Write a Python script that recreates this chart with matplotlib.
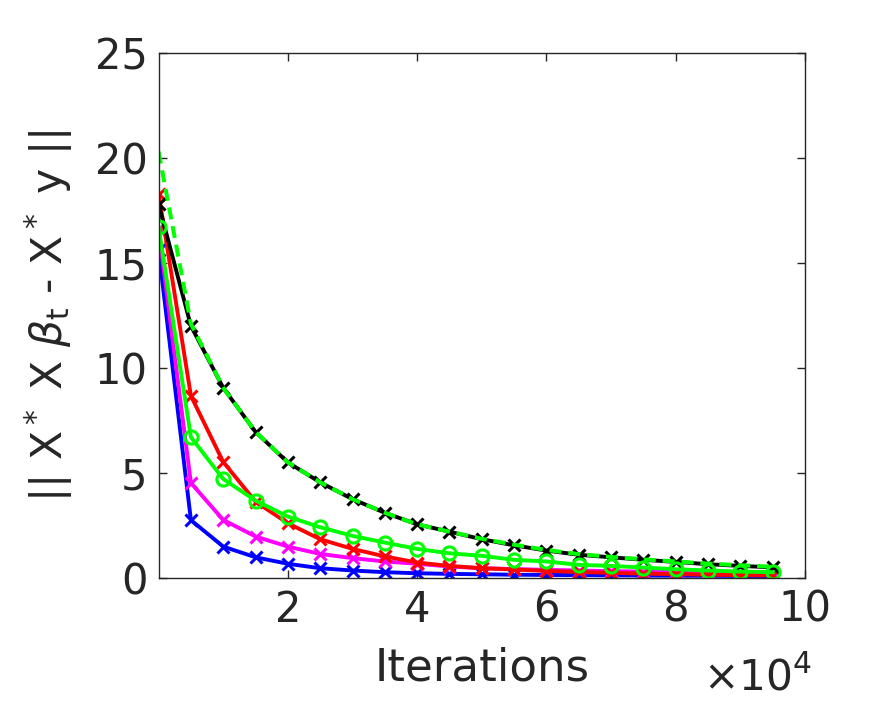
import matplotlib
matplotlib.use("Agg")
import matplotlib.pyplot as plt

iters = [1, 5000, 10000, 15000, 20000, 25000, 30000, 35000, 40000, 45000,
         50000, 55000, 60000, 65000, 70000, 75000, 80000, 85000, 90000, 95000]

blue = [15.6, 2.75, 1.49, 0.98, 0.67, 0.46, 0.35, 0.27, 0.22, 0.19,
        0.17, 0.15, 0.14, 0.13, 0.12, 0.11, 0.10, 0.10, 0.09, 0.09]
magenta = [16.6, 4.52, 2.76, 1.97, 1.49, 1.14, 0.94, 0.78, 0.67, 0.54,
           0.46, 0.42, 0.38, 0.35, 0.32, 0.30, 0.28, 0.26, 0.25, 0.24]
red = [18.3, 8.67, 5.52, 3.63, 2.60, 1.84, 1.38, 1.02, 0.73, 0.57,
       0.46, 0.40, 0.33, 0.28, 0.24, 0.20, 0.18, 0.15, 0.13, 0.12]
black = [17.8, 12.0, 9.05, 6.95, 5.50, 4.55, 3.75, 3.10, 2.55, 2.20,
         1.84, 1.55, 1.30, 1.10, 0.98, 0.86, 0.76, 0.65, 0.57, 0.50]
green_circ = [16.7, 6.70, 4.71, 3.68, 2.92, 2.41, 2.00, 1.68, 1.38, 1.17,
              1.05, 0.86, 0.78, 0.62, 0.57, 0.49, 0.41, 0.35, 0.30, 0.27]
green_dash = [20.3, 12.1, 9.05, 6.95, 5.50, 4.55, 3.75, 3.10, 2.55, 2.20,
              1.86, 1.58, 1.33, 1.13, 1.00, 0.88, 0.78, 0.68, 0.60, 0.53]

xticks = [20000, 40000, 60000, 80000, 100000]
xticklabels = ["2", "4", "6", "8", "10"]
yticks = [0, 5, 10, 15, 20, 25]

txt = "#262626"
fig = plt.figure(figsize=(8.91, 7.03), dpi=100)
ax = fig.add_axes([0.178, 0.178, 0.7255, 0.7466])

lw = 2.8
mk = dict(marker="x", ms=8.5, mew=2.2)
ax.plot(iters, blue, color=(0, 0, 1), lw=lw, **mk)
ax.plot(iters, magenta, color=(1, 0, 1), lw=lw, **mk)
ax.plot(iters, red, color=(1, 0, 0), lw=lw, **mk)
ax.plot(iters, black, color="black", lw=lw, **mk)
ax.plot(iters, green_circ, color=(0, 1, 0), lw=lw, marker="o", ms=9.5,
        mew=2.2, mfc="none")
ax.plot(iters, green_dash, color=(0, 1, 0), lw=2.9, ls=(0, (3.0, 1.7)))

ax.set_xlim(1, 100000)
ax.set_ylim(0, 25)
ax.set_xticks(xticks)
ax.set_xticklabels(xticklabels)
ax.set_yticks(yticks)
ax.tick_params(direction="in", length=6, width=1, top=True, right=True,
               labelsize=30, labelcolor=txt, colors=txt, pad=8)
for s in ax.spines.values():
    s.set_color(txt)
    s.set_linewidth(1)

ax.set_xlabel("Iterations", fontsize=32.5, color=txt, labelpad=11)
ylab = ax.set_ylabel(r"|| X$^*$ X $\beta_{\rm t}$ - X$^*$ y ||", fontsize=34,
                     color=txt)
ax.yaxis.set_label_coords(-0.130, 0.5)
fig.canvas.draw()
h = ylab.get_window_extent().height
ylab.set_fontsize(34 * 372.0 / h)

fig.text(0.789, 0.006, r"$\times$10$^4$", fontsize=30.5, color=txt,
         ha="left", va="bottom")

fig.savefig("out.png", dpi=100)
